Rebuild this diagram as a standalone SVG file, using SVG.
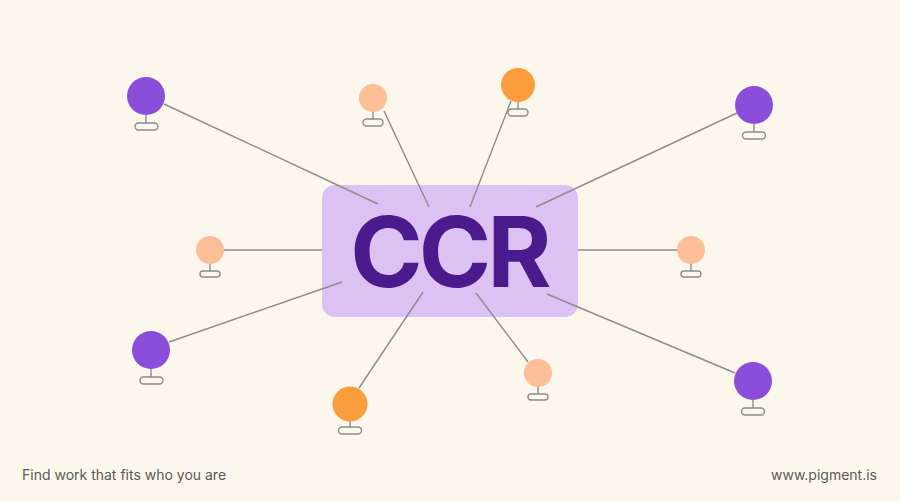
<svg xmlns="http://www.w3.org/2000/svg" width="900" height="502" viewBox="0 0 900 502">
<defs>
<style>
.bg{fill:#fbf7ec}
.ln{stroke:#8c8c8c;stroke-width:1.4;fill:none}
.stem{stroke:#8c8c8c;stroke-width:1.4}
.pill{fill:#fbf7ec;stroke:#8c8c8c;stroke-width:1.4}
.purple{fill:#8a4edb}
.peach{fill:#fcbf98}
.orange{fill:#fb9c3d}
.foot{font-family:Inter,"Liberation Sans",sans-serif;font-size:14px;fill:#5a5a5a}
</style>
</defs>
<rect class="bg" x="0" y="0" width="900" height="502"/>
<g id="center">
<rect x="322" y="185" width="256" height="132" rx="13" fill="#dcc2f3"/>
<text x="449" y="287" text-anchor="middle" letter-spacing="-4" font-family="Inter,'Liberation Sans',sans-serif" font-weight="700" font-size="98" fill="#4b1a8c">CCR</text>
</g>
<g id="connectors">
<line class="ln" x1="164" y1="104" x2="378" y2="204"/>
<line class="ln" x1="384" y1="111" x2="429" y2="207"/>
<line class="ln" x1="511" y1="101" x2="470" y2="207"/>
<line class="ln" x1="737" y1="113" x2="536" y2="207"/>
<line class="ln" x1="224" y1="250" x2="322" y2="250"/>
<line class="ln" x1="578" y1="250" x2="677" y2="250"/>
<line class="ln" x1="169" y1="342" x2="342" y2="282"/>
<line class="ln" x1="359" y1="388" x2="423" y2="292"/>
<line class="ln" x1="528" y1="362" x2="476" y2="293"/>
<line class="ln" x1="735" y1="373" x2="547" y2="294"/>
</g>
<g id="n1"><line class="stem" x1="146" y1="115" x2="146" y2="123"/><rect class="pill" x="135" y="123" width="23" height="7" rx="3.5"/><circle class="purple" cx="146" cy="96" r="19"/></g>
<g id="n2"><line class="stem" x1="373" y1="112" x2="373" y2="119"/><rect class="pill" x="363" y="119" width="20" height="7" rx="3.5"/><circle class="peach" cx="373" cy="98" r="14"/></g>
<g id="n3"><line class="stem" x1="518" y1="102" x2="518" y2="109"/><rect class="pill" x="508" y="109" width="20" height="7" rx="3.5"/><circle class="orange" cx="518" cy="85" r="17"/></g>
<g id="n4"><line class="stem" x1="754" y1="124" x2="754" y2="132"/><rect class="pill" x="742.5" y="132" width="23" height="7" rx="3.5"/><circle class="purple" cx="754" cy="105" r="19"/></g>
<g id="n5"><line class="stem" x1="210" y1="264" x2="210" y2="271"/><rect class="pill" x="200" y="271" width="20" height="6" rx="3"/><circle class="peach" cx="210" cy="250" r="14"/></g>
<g id="n6"><line class="stem" x1="691" y1="264" x2="691" y2="271"/><rect class="pill" x="681" y="271" width="20" height="6" rx="3"/><circle class="peach" cx="691" cy="250" r="14"/></g>
<g id="n7"><line class="stem" x1="151" y1="369" x2="151" y2="377"/><rect class="pill" x="140" y="377" width="23" height="7" rx="3.5"/><circle class="purple" cx="151" cy="350" r="19"/></g>
<g id="n8"><line class="stem" x1="350" y1="421" x2="350" y2="427"/><rect class="pill" x="338.5" y="427" width="23" height="7" rx="3.5"/><circle class="orange" cx="350" cy="404" r="17.5"/></g>
<g id="n9"><line class="stem" x1="538" y1="387" x2="538" y2="394"/><rect class="pill" x="528" y="394" width="20" height="6" rx="3"/><circle class="peach" cx="538" cy="373" r="14"/></g>
<g id="n10"><line class="stem" x1="753" y1="400" x2="753" y2="408"/><rect class="pill" x="741.5" y="408" width="23" height="7" rx="3.5"/><circle class="purple" cx="753" cy="381" r="19"/></g>
<text class="foot" x="22" y="480">Find work that fits who you are</text>
<text class="foot" x="877" y="480" text-anchor="end">www.pigment.is</text>
</svg>
